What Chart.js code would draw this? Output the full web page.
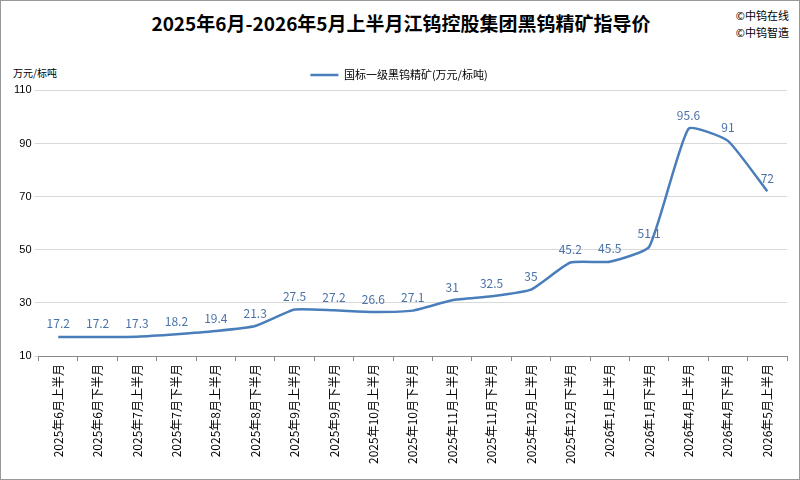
<!DOCTYPE html>
<html><head><meta charset="utf-8">
<script src="https://cdn.jsdelivr.net/npm/chart.js@4/dist/chart.umd.min.js"></script>
<style>
html,body{margin:0;padding:0;background:#fff;}
#wrap{position:relative;width:798px;height:478px;border:1px solid #999;}
#t{position:absolute;left:0;top:8px;width:800px;text-align:center;font:bold 19px "Noto Sans CJK SC";color:#000;}
#c1{position:absolute;right:10px;top:6px;font:11px "Noto Sans CJK SC";line-height:17px;color:#000;}
#u{position:absolute;left:12px;top:64px;font:10px "Noto Sans CJK SC";color:#000;}
</style></head><body>
<div id="wrap">
<div id="t">2025年6月-2026年5月上半月江钨控股集团黑钨精矿指导价</div>
<div id="c1">©中钨在线<br>©中钨智造</div>
<div id="u">万元/标吨</div>
<canvas id="c" width="798" height="478" style="position:absolute;left:0;top:0"></canvas>
</div>
<script>
const categories=["2025年6月上半月","2025年6月下半月","2025年7月上半月","2025年7月下半月","2025年8月上半月","2025年8月下半月","2025年9月上半月","2025年9月下半月","2025年10月上半月","2025年10月下半月","2025年11月上半月","2025年11月下半月","2025年12月上半月","2025年12月下半月","2026年1月上半月","2026年1月下半月","2026年4月上半月","2026年4月下半月","2026年5月上半月"];
const values=[17.2,17.2,17.3,18.2,19.4,21.3,27.5,27.2,26.6,27.1,31,32.5,35,45.2,45.5,51.1,95.6,91,72];
const yTicks=[10,30,50,70,90,110];
const labelsPlugin={id:'lbl',afterDatasetsDraw(ch){const ctx=ch.ctx;const m=ch.getDatasetMeta(0);ctx.save();ctx.font='12px "Noto Sans CJK SC"';ctx.fillStyle='#4a72a8';ctx.textAlign='center';ctx.textBaseline='bottom';
m.data.forEach((p,i)=>ctx.fillText(String(values[i]),p.x,p.y-7));ctx.restore();}};
new Chart(document.getElementById('c'),{type:'line',
data:{labels:categories,datasets:[{label:'国标一级黑钨精矿(万元/标吨)',data:values,borderColor:'#4a7ebb',borderWidth:2.5,pointRadius:0,tension:0.15,fill:false}]},
options:{responsive:false,animation:false,
layout:{padding:{left:10,right:12,top:0,bottom:12}},
plugins:{legend:{display:true,labels:{boxWidth:28,boxHeight:0,padding:14,font:{size:11,family:'Noto Sans CJK SC'},color:'#000'}},
title:{display:true,text:'',padding:{top:40,bottom:0}},tooltip:{enabled:false}},
scales:{
x:{offset:true,grid:{display:true,offset:true,drawOnChartArea:false,tickLength:5,color:'#888'},border:{color:'#888'},ticks:{maxRotation:90,minRotation:90,autoSkip:false,color:'#000',font:{size:12,family:'Noto Sans CJK SC'}}},
y:{min:10,max:110,afterBuildTicks(s){s.ticks=yTicks.map(v=>({value:v}));},grid:{color:'#d9d9d9',tickLength:4},border:{display:false},ticks:{color:'#000',font:{size:11}}}
}},plugins:[labelsPlugin]});
</script></body></html>
